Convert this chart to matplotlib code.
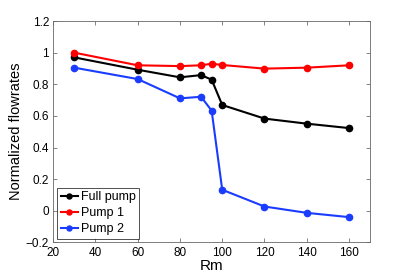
import numpy as np
import matplotlib
matplotlib.use('Agg')
import matplotlib.pyplot as plt

# Rm values and normalized flowrates
rm = [30, 60, 80, 90, 95, 100, 120, 140, 160]
full_pump = [0.97, 0.892, 0.844, 0.858, 0.829, 0.669, 0.583, 0.551, 0.523]
pump1 = [1.0, 0.92, 0.915, 0.92, 0.93, 0.922, 0.899, 0.905, 0.92]
pump2 = [0.905, 0.833, 0.711, 0.721, 0.633, 0.133, 0.027, -0.013, -0.04]

plt.rcParams['font.family'] = ['Liberation Sans', 'DejaVu Sans']

fig = plt.figure(figsize=(4.09, 2.73), dpi=100)
ax = fig.add_axes([0.130, 0.112, 0.775, 0.811])

ax.plot(rm, full_pump, color='black', marker='o', markersize=4.5, lw=1.5, label='Full pump')
ax.plot(rm, pump1, color='#ff0000', marker='o', markersize=4.5, lw=1.5, label='Pump 1')
ax.plot(rm, pump2, color='#1a3cff', marker='o', markersize=4.5, lw=1.5, label='Pump 2')

ax.set_xlim(20, 170)
ax.set_ylim(-0.2, 1.2)
ax.set_xticks([20, 40, 60, 80, 100, 120, 140, 160])
ax.set_yticks([-0.2, 0, 0.2, 0.4, 0.6, 0.8, 1.0, 1.2])
ax.set_yticklabels(['\u22120.2', '0', '0.2', '0.4', '0.6', '0.8', '1', '1.2'])
ax.tick_params(direction='in', top=True, right=True, labelsize=8.5, length=3,
               width=0.5, color='#555555')
ax.tick_params(axis='x', pad=3)
ax.tick_params(axis='y', pad=3)
for s in ax.spines.values():
    s.set_linewidth(0.6)
    s.set_color('#666666')

ax.set_xlabel('Rm', fontsize=11, labelpad=0)
ax.set_ylabel('Normalized flowrates', fontsize=10.5, labelpad=2)

leg = ax.legend(loc='lower left', fontsize=9, frameon=True, fancybox=False,
                handlelength=1.4, handletextpad=0.2, borderpad=0.3,
                labelspacing=0.3, borderaxespad=0.3, markerscale=0.8)
leg.get_frame().set_edgecolor('black')
leg.get_frame().set_linewidth(0.6)

plt.savefig('out.png', dpi=100)
